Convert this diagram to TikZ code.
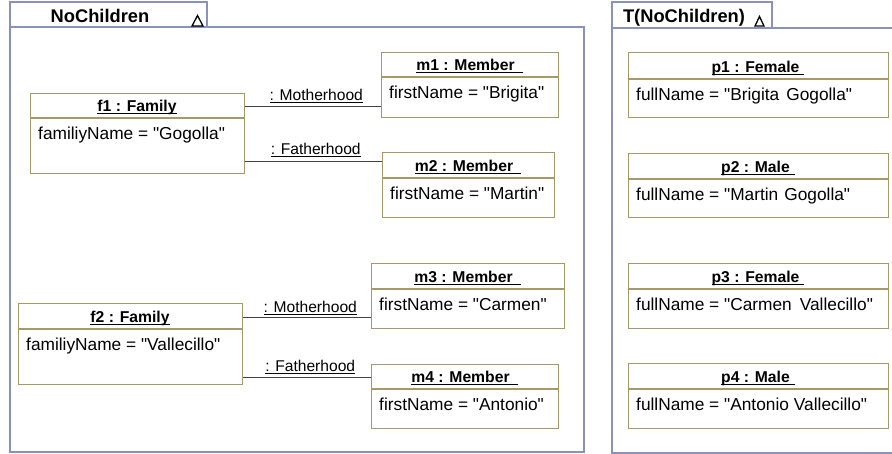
\documentclass[tikz,border=0pt]{standalone}
\usepackage{fontspec}
\setmainfont{Liberation Sans}[Ligatures={TeXOff,CommonOff}]
\definecolor{framec}{RGB}{136,146,186}
\definecolor{boxc}{RGB}{166,152,104}
\definecolor{connc}{RGB}{64,64,64}
\newcommand\uline[1]{\leavevmode\setbox0\hbox{#1}\rlap{\rule[-2pt]{\wd0}{1pt}}\box0}
\tikzset{
  frameline/.style={draw=framec, line width=1.3pt},
  objbox/.style={draw=boxc, line width=1.4pt, fill=white, inner sep=0pt},
  boxline/.style={draw=boxc, line width=1.2pt},
  hdr/.style={inner sep=0pt, font=\fontsize{15.7}{18}\selectfont\bfseries},
  attr/.style={inner sep=0pt, font=\fontsize{17.3}{20}\selectfont},
  lab/.style={inner sep=0pt, font=\fontsize{15.6}{18}\selectfont},
  ttl/.style={inner sep=0pt, font=\fontsize{18.3}{21}\selectfont\bfseries},
  conn/.style={draw=connc, line width=1pt},
  tri/.style={draw=black, line width=1.3pt, line join=miter}
}
\newcommand\obj[8]{%
  \node[objbox, anchor=north west, minimum width={#4-#2}, minimum height={#5-#3}] (#1) at (#2,#3) {};
  \draw[boxline] (#2,#6) -- (#4,#6);
  \node[hdr, anchor=base] (#1h) at ({(#2+#4)/2},{#6-6}) {\uline{#7}};
  \node[attr, anchor=base west] (#1a) at ({#2+8},{#6+21.5}) {#8};
}
\begin{document}
\begin{tikzpicture}[x=1pt,y=-1pt]
\useasboundingbox (0,0) rectangle (892,454);
\fill[white] (0,0) rectangle (892,454);
% left frame
\draw[frameline] (10,2) rectangle (207,27);
\draw[frameline] (10,27) rectangle (584,452);
\node[ttl, anchor=base] (t1) at (100,22.5) {NoChildren};
\draw[tri] (192,26) -- (197.5,15.5) -- (203,26) -- cycle;
% right frame
\draw[frameline] (612,2) rectangle (772,28);
\draw[frameline] (893,28) -- (612,28) -- (612,453) -- (893,453);
\node[ttl, anchor=base] (t2) at (684,22.5) {T(NoChildren)};
\draw[tri] (755,26) -- (759.5,16.5) -- (764,26) -- cycle;
% objects
\obj{f1}{30}{93}{244}{173}{118}{f1 : Family}{familiyName = "Gogolla"}
\obj{m1}{381}{52}{558}{117}{77}{m1 : Member\hspace{8pt}}{firstName = "Brigita"}
\obj{m2}{382}{152}{554}{217}{178}{m2 : Member\hspace{8pt}}{firstName = "Martin"}
\obj{f2}{18}{303}{242}{384}{329}{f2 : Family}{familiyName = "Vallecillo"}
\obj{m3}{371}{263}{564}{328}{289}{m3 : Member\hspace{8pt}}{firstName = "Carmen"}
\obj{m4}{371}{364}{558}{428}{389}{m4 : Member\hspace{8pt}}{firstName = "Antonio"}
\obj{p1}{628}{52}{888}{117}{79}{p1 : Female\hspace{5pt}}{fullName = "Brigita\hspace{7pt}Gogolla"}
\obj{p2}{628}{153}{888}{217}{179}{p2 : Male\hspace{5pt}}{fullName = "Martin\hspace{6pt}Gogolla"}
\obj{p3}{628}{263}{888}{328}{289}{p3 : Female\hspace{5pt}}{fullName = "Carmen\hspace{8pt}Vallecillo"}
\obj{p4}{628}{363}{888}{428}{389}{p4 : Male\hspace{5pt}}{fullName = "Antonio\hspace{5pt}Vallecillo"}
% connectors
\coordinate (c1) at (0,107);
\coordinate (c2) at (0,162);
\coordinate (c3) at (0,318);
\coordinate (c4) at (0,378);
\draw[conn] (f1.east |- c1) -- node[lab, pos=0.5, anchor=base, yshift=6pt, xshift=3pt] (l1) {\uline{: Motherhood}} (m1.west |- c1);
\draw[conn] (f1.east |- c2) -- node[lab, pos=0.5, anchor=base, yshift=7pt, xshift=2pt] (l2) {\uline{: Fatherhood}} (m2.west |- c2);
\draw[conn] (f2.east |- c3) -- node[lab, pos=0.5, anchor=base, yshift=5pt, xshift=3pt] (l3) {\uline{: Motherhood}} (m3.west |- c3);
\draw[conn] (f2.east |- c4) -- node[lab, pos=0.5, anchor=base, yshift=6pt, xshift=3pt] (l4) {\uline{: Fatherhood}} (m4.west |- c4);
\end{tikzpicture}
\end{document}
